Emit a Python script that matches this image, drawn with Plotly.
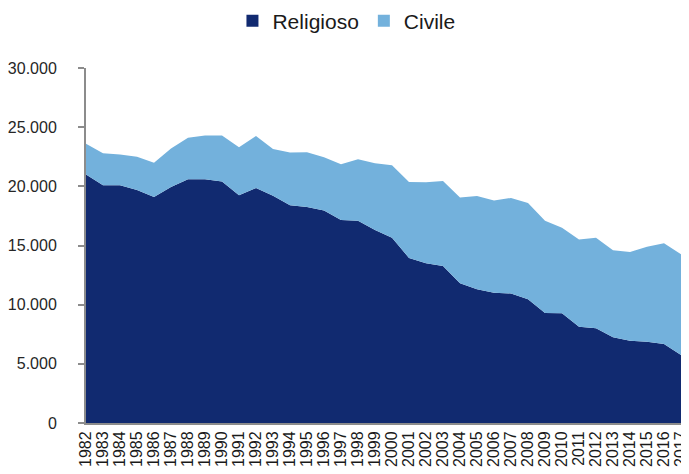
import plotly.graph_objects as go

years = [str(y) for y in range(1982, 2018)]
religioso = [21000, 20100, 20100, 19700, 19100, 19950, 20600, 20600, 20400, 19250,
             19850, 19200, 18400, 18250, 17950, 17150, 17100, 16300, 15650, 13950,
             13500, 13270, 11800, 11300, 11000, 10950, 10450, 9300, 9270, 8140,
             8000, 7240, 6960, 6870, 6680, 5750]
civile = [2600, 2700, 2600, 2800, 2900, 3250, 3500, 3700, 3900, 4050,
          4410, 3960, 4450, 4630, 4510, 4720, 5190, 5650, 6130, 6420,
          6850, 7180, 7250, 7890, 7800, 8070, 8150, 7800, 7230, 7360,
          7660, 7360, 7490, 8030, 8510, 8510]
series_names = ["Religioso", "Civile"]
colors = ["#112A70", "#73B1DC"]

fig = go.Figure()
for name, vals, col in zip(series_names, [religioso, civile], colors):
    fig.add_trace(go.Scatter(x=years, y=vals, name=name, stackgroup="one",
                             mode="none", fillcolor=col, showlegend=False))
for name, col in zip(series_names, colors):
    fig.add_trace(go.Scatter(x=[None], y=[None], name=name, mode="markers",
                             marker=dict(symbol="square", size=12, color=col)))

# page body has an 8px default margin, so the figure is sized to fit the window
fig.update_layout(
    width=681, height=466,
    margin=dict(l=78, r=8, t=60, b=51, autoexpand=False),
    paper_bgcolor="white", plot_bgcolor="white",
    separators=",.",
    font=dict(family="Liberation Sans, Arial, sans-serif", color="#262626"),
    showlegend=True,
    legend=dict(orientation="h", traceorder="normal",
                xref="container", x=0.497, xanchor="center",
                yref="container", y=1 - 13 / 466, yanchor="middle",
                font=dict(size=21, color="#1a1a1a"), itemwidth=30, tracegroupgap=0),
    xaxis=dict(type="category", range=[0, 35], showgrid=False, showline=True,
               linecolor="#8c8c8c", linewidth=2, ticks="", tickangle=-90,
               tickmode="linear", dtick=1, automargin=False,
               tickfont=dict(size=16, color="#1a1a1a")),
    yaxis=dict(range=[0, 30000], dtick=5000, tickformat=",d", showgrid=False,
               showline=True, linecolor="#8c8c8c", linewidth=2, ticks="outside",
               ticklen=6, tickcolor="#8c8c8c", tickwidth=2, ticklabelstandoff=18,
               automargin=False,
               tickfont=dict(size=16, color="#262626"), zeroline=False),
)
fig.write_html("out.html")
